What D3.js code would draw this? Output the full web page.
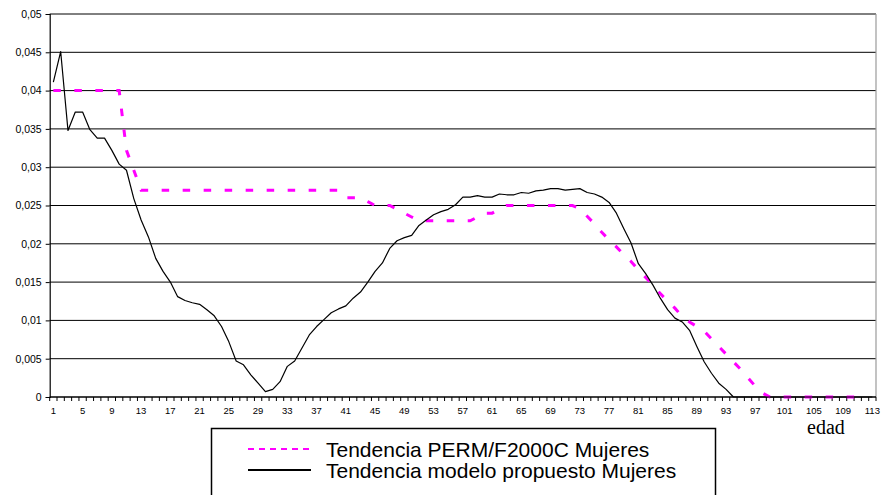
<!DOCTYPE html>
<html>
<head>
<meta charset="utf-8">
<script src="https://cdn.jsdelivr.net/npm/d3@7"></script>
<style>
  html, body { margin: 0; padding: 0; background: #fff; }
  svg { display: block; }
</style>
</head>
<body>
<svg id="chart" width="883" height="495"></svg>
<script>
// ---------------- DATA ----------------
const ages = d3.range(1, 114); // categories 1..113
const xTickLabels = d3.range(1, 114, 4); // 1,5,...,113
const yTicks = [0, 0.005, 0.01, 0.015, 0.02, 0.025, 0.03, 0.035, 0.04, 0.045, 0.05];

const seriesNames = ["Tendencia PERM/F2000C Mujeres", "Tendencia modelo propuesto Mujeres"];

// PERM/F2000C trend (ages 1..111)
const permValues = [
  0.040, 0.040, 0.040, 0.040, 0.040, 0.040, 0.040, 0.040, 0.040, 0.040, // 1-10
  0.0322, 0.0296, 0.027, 0.027, 0.027, 0.027, 0.027, 0.027, 0.027, 0.027, // 11-20
  0.027, 0.027, 0.027, 0.027, 0.027, 0.027, 0.027, 0.027, 0.027, 0.027, // 21-30
  0.027, 0.027, 0.027, 0.027, 0.027, 0.027, 0.027, 0.027, 0.027, 0.027, // 31-40
  0.026, 0.026, 0.026, 0.0255, 0.025, 0.025, 0.025, 0.0245, 0.024, 0.0235, // 41-50
  0.023, 0.023, 0.023, 0.023, 0.023, 0.023, 0.023, 0.023, 0.0235, 0.024, // 51-60
  0.024, 0.0245, 0.025, 0.025, 0.025, 0.025, 0.025, 0.025, 0.025, 0.025, // 61-70
  0.025, 0.025, 0.0246, 0.0236, 0.0226, 0.0215, 0.0205, 0.0196, 0.0186, 0.0177, // 71-80
  0.0166, 0.0156, 0.0146, 0.0135, 0.0125, 0.0116, 0.0105, 0.0098, 0.0092, 0.0086, // 81-90
  0.0076, 0.0066, 0.0056, 0.0046, 0.0036, 0.0025, 0.0014, 0.0005, 0, 0, // 91-100
  0, 0, 0, 0, 0, 0, 0, 0, 0, 0, 0 // 101-111
];

// Proposed model trend (ages 1..113)
const modelValues = [
  0.0411, 0.0451, 0.0348, 0.0372, 0.0372, 0.0349, 0.0338, 0.0338, 0.0322, 0.0304, // 1-10
  0.0296, 0.0259, 0.0231, 0.0209, 0.0181, 0.0164, 0.0150, 0.0131, 0.0126, 0.0123, // 11-20
  0.0121, 0.0114, 0.0106, 0.0092, 0.0072, 0.0047, 0.0042, 0.0029, 0.0018, 0.0007, // 21-30
  0.0010, 0.0020, 0.0040, 0.0047, 0.0064, 0.0081, 0.0092, 0.0101, 0.0110, 0.0115, // 31-40
  0.0119, 0.0129, 0.0137, 0.0150, 0.0164, 0.0175, 0.0194, 0.0204, 0.0208, 0.0211, // 41-50
  0.0224, 0.0231, 0.0238, 0.0242, 0.0245, 0.0251, 0.0261, 0.0261, 0.0263, 0.0261, // 51-60
  0.0261, 0.0265, 0.0264, 0.0264, 0.0267, 0.0266, 0.0269, 0.0270, 0.0272, 0.0272, // 61-70
  0.0270, 0.0271, 0.0272, 0.0267, 0.0265, 0.0261, 0.0254, 0.0240, 0.0220, 0.0201, // 71-80
  0.0174, 0.0161, 0.0146, 0.0129, 0.0114, 0.0103, 0.0098, 0.0087, 0.0066, 0.0046, // 81-90
  0.0031, 0.0018, 0.0010, 0, 0, 0, 0, 0, 0, 0, // 91-100
  0, 0, 0, 0, 0, 0, 0, 0, 0, 0, 0, 0, 0 // 101-113
];

const axisTitle = "edad";

// ---------------- CHART ----------------
const svg = d3.select("#chart");
const plot = { left: 49.7, right: 876, top: 14, bottom: 397 };

const x = d3.scaleBand().domain(ages).range([plot.left, plot.right]).padding(0);
const xc = a => x(a) + x.bandwidth() / 2;
const y = d3.scaleLinear().domain([0, 0.05]).range([plot.bottom, plot.top]);

const locale = d3.formatLocale({ decimal: ",", thousands: ".", grouping: [3], currency: ["", ""] });
const fmt = locale.format(".3~f");

// gridlines
svg.append("g")
  .selectAll("line")
  .data(yTicks.filter(v => v > 0))
  .join("line")
  .attr("x1", plot.left).attr("x2", plot.right)
  .attr("y1", d => y(d)).attr("y2", d => y(d))
  .attr("stroke", "#000").attr("stroke-width", 1);

// right border of plot area
svg.append("line")
  .attr("x1", plot.right).attr("x2", plot.right)
  .attr("y1", plot.top).attr("y2", plot.bottom)
  .attr("stroke", "#9a9a9a").attr("stroke-width", 1.2);

// y axis
const yAxis = svg.append("g")
  .attr("transform", `translate(${plot.left},0)`)
  .call(d3.axisLeft(y).tickValues(yTicks).tickFormat(fmt).tickSize(4).tickPadding(4));
yAxis.select(".domain").attr("stroke", "#000").attr("stroke-width", 1.2);
yAxis.selectAll(".tick line").attr("stroke", "#000");
yAxis.selectAll("text").attr("font-family", "Arial, 'Liberation Sans', sans-serif")
  .attr("font-size", 10.5).attr("fill", "#000");

// x axis: ticks at category boundaries
const boundaries = ages.map(a => x(a)).concat([plot.right]);
svg.append("g").selectAll("line")
  .data(boundaries)
  .join("line")
  .attr("x1", d => d).attr("x2", d => d)
  .attr("y1", plot.bottom).attr("y2", plot.bottom + 4)
  .attr("stroke", "#000").attr("stroke-width", 1);

const xAxis = svg.append("g")
  .attr("transform", `translate(0,${plot.bottom})`)
  .call(d3.axisBottom(x).tickValues(xTickLabels).tickSize(0).tickPadding(10));
xAxis.select(".domain").remove();
svg.append("line")
  .attr("x1", plot.left).attr("x2", plot.right)
  .attr("y1", plot.bottom).attr("y2", plot.bottom)
  .attr("stroke", "#000").attr("stroke-width", 1.5);
xAxis.selectAll("text").attr("font-family", "Arial, 'Liberation Sans', sans-serif")
  .attr("font-size", 9.5).attr("fill", "#000");

// series lines
const linePerm = d3.line().x((d, i) => xc(ages[i])).y(d => y(d));
svg.append("path")
  .datum(permValues)
  .attr("d", linePerm)
  .attr("fill", "none")
  .attr("stroke", "#FF00FF")
  .attr("stroke-width", 3)
  .attr("stroke-dasharray", "7.5,13.5");

svg.append("path")
  .datum(modelValues)
  .attr("d", linePerm)
  .attr("fill", "none")
  .attr("stroke", "#000")
  .attr("stroke-width", 1.2)
  .attr("stroke-linejoin", "round");

// axis title
svg.append("text")
  .attr("x", 826).attr("y", 434)
  .attr("text-anchor", "middle")
  .attr("font-family", "'Times New Roman', 'Liberation Serif', serif")
  .attr("font-size", 20)
  .attr("fill", "#000")
  .text(axisTitle);

// legend
const lg = svg.append("g");
lg.append("rect")
  .attr("x", 211.5).attr("y", 428.5)
  .attr("width", 504).attr("height", 90)
  .attr("fill", "#fff").attr("stroke", "#000").attr("stroke-width", 1.5);

const legendItems = [
  { name: seriesNames[0], color: "#FF00FF", width: 2, dash: "6,5", y: 449 },
  { name: seriesNames[1], color: "#000", width: 2, dash: null, y: 470 }
];
legendItems.forEach(it => {
  lg.append("line")
    .attr("x1", 248).attr("x2", 311)
    .attr("y1", it.y).attr("y2", it.y)
    .attr("stroke", it.color).attr("stroke-width", it.width)
    .attr("stroke-dasharray", it.dash);
  lg.append("text")
    .attr("x", 326).attr("y", it.y + 7.5)
    .attr("font-family", "Arial, 'Liberation Sans', sans-serif")
    .attr("font-size", 21)
    .attr("fill", "#000")
    .text(it.name);
});
</script>
</body>
</html>
